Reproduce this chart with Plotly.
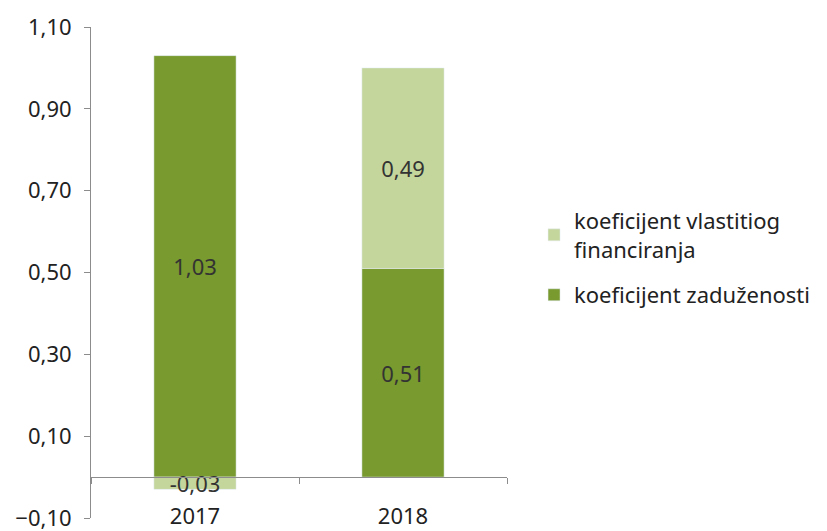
import plotly.graph_objects as go

categories = ["2017", "2018"]
zaduzenosti = [1.03, 0.51]
vlastitog = [-0.03, 0.49]
name_zad = "koeficijent zaduženosti"
name_vla = "koeficijent vlastitiog<br>financiranja"
y_ticks = [-0.10, 0.10, 0.30, 0.50, 0.70, 0.90, 1.10]

DARK = "#789A2E"
LIGHT = "#C4D69B"
FONT = "Noto Sans"
FS = 22

# the page body has an 8px margin, so the figure is shrunk by 8px
fig = go.Figure()
fig.add_trace(go.Bar(
    x=categories, y=zaduzenosti, name=name_zad, marker_color=DARK,
    texttemplate="%{y:.2f}", textposition="inside", insidetextanchor="middle",
    textangle=0, constraintext="none", legendrank=2, legendgroup="zad",
    textfont=dict(family=FONT, size=FS, color="#333333"),
))
fig.add_trace(go.Bar(
    x=categories, y=vlastitog, name=name_vla, marker_color=LIGHT,
    texttemplate="%{y:.2f}", textposition="inside", insidetextanchor="middle",
    textangle=0, constraintext="none", legendrank=1, legendgroup="vla",
    textfont=dict(family=FONT, size=FS, color="#333333"),
))

fig.update_layout(
    width=819, height=523,
    barmode="relative", bargap=0.605,
    separators=",.",
    paper_bgcolor="white", plot_bgcolor="white",
    margin=dict(l=83, r=317, t=19, b=13, pad=0),
    font=dict(family=FONT, size=FS, color="#222222"),
    showlegend=True,
    legend=dict(x=1.065, y=0.53, xanchor="left", yanchor="middle",
                traceorder="grouped", tracegroupgap=14,
                font=dict(family=FONT, size=22, color="#222222"),
                itemwidth=30, bgcolor="rgba(0,0,0,0)"),
    yaxis=dict(range=[-0.10, 1.10], tickvals=y_ticks, tickformat=".2f",
               showgrid=False, zeroline=False, showline=True,
               linecolor="#8c8c8c", linewidth=1, ticks="outside",
               ticklen=6, tickcolor="#8c8c8c", ticklabelstandoff=8,
               automargin=False, ticklabeloverflow="allow"),
    xaxis=dict(range=[-0.5, 1.5], anchor="free", position=0.1/1.2,
               showgrid=False, zeroline=False, showline=True,
               linecolor="#8c8c8c", linewidth=1, ticks="outside",
               tickson="boundaries", ticklen=6, tickcolor="#8c8c8c",
               ticklabelstandoff=20, automargin=False,
               ticklabeloverflow="allow"),
)

fig.write_html("out.html")
